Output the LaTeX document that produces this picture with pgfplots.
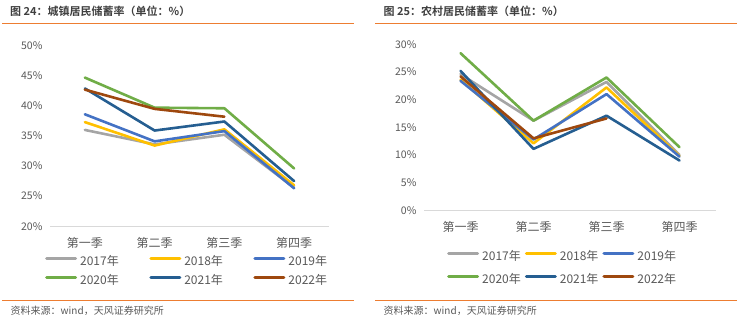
\documentclass[border=0pt]{standalone}
\usepackage{fontspec}
\setmainfont{Noto Sans CJK SC}[BoldFont={Noto Sans CJK SC Bold}]
\usepackage{pgfplots}
\pgfplotsset{compat=1.18}
\definecolor{c17}{HTML}{A5A5A5}
\definecolor{c18}{HTML}{FFC000}
\definecolor{c19}{HTML}{4472C4}
\definecolor{c20}{HTML}{70AD47}
\definecolor{c21}{HTML}{255E91}
\definecolor{c22}{HTML}{9E480E}
\definecolor{orng}{HTML}{ED7D31}
\definecolor{txt}{HTML}{595959}
\definecolor{ttl}{HTML}{3F3F3F}
\pgfplotsset{
  common/.style={
    scale only axis,
    axis x line*=bottom, axis y line*=left,
    y axis line style={draw=none},
    x axis line style={draw=black!15, line width=0.8bp},
    tick style={draw=none},
    xmin=-0.5, xmax=3.5,
    xtick={0,1,2,3},
    xticklabels={第一季,第二季,第三季,第四季},
    xticklabel style={font=\fontsize{12bp}{14bp}\selectfont, text=txt, yshift=-7.5bp},
    yticklabel style={font=\fontsize{10.5bp}{12bp}\selectfont, text=txt, xshift=-4bp},
    every axis plot/.append style={line width=2.6bp, line cap=round, line join=round, mark=none},
    legend columns=3,
    legend cell align=left,
    legend image code/.code={\draw[##1, line width=3bp] (0bp,3.8bp) -- (29bp,3.8bp);},
  }
}
\begin{document}
\begin{tikzpicture}
\path[use as bounding box] (0,0) rectangle (744bp,-324bp);
% titles and rules
\node[anchor=west, font=\bfseries\fontsize{11bp}{13bp}\selectfont, text=ttl, inner sep=0] at (10bp,-11.7bp) {图 24：城镇居民储蓄率（单位：\%）};
\node[anchor=west, font=\bfseries\fontsize{11bp}{13bp}\selectfont, text=ttl, inner sep=0] at (383.5bp,-11.7bp) {图 25：农村居民储蓄率（单位：\%）};
\draw[orng, line width=0.8bp] (2bp,-23.3bp) -- (354bp,-23.3bp);
\draw[orng, line width=0.8bp] (375bp,-23.3bp) -- (737bp,-23.3bp);
\draw[orng, line width=0.8bp] (2bp,-300.3bp) -- (354bp,-300.3bp);
\draw[orng, line width=0.8bp] (375bp,-300.3bp) -- (737bp,-300.3bp);
\node[anchor=west, font=\fontsize{10bp}{12bp}\selectfont, text=txt, inner sep=0] at (10.5bp,-311bp) {资料来源：wind，天风证券研究所};
\node[anchor=west, font=\fontsize{10bp}{12bp}\selectfont, text=txt, inner sep=0] at (383.5bp,-311bp) {资料来源：wind，天风证券研究所};

% left chart
\begin{axis}[common,
  at={(50bp,-45.7bp)}, anchor=north west,
  width=279bp, height=180.5bp,
  ymin=20, ymax=50,
  ytick={20,25,30,35,40,45,50},
  yticklabels={20\%,25\%,30\%,35\%,40\%,45\%,50\%},
  legend style={at={(-0.018,-0.167)}, anchor=north west, draw=none, inner sep=0pt,
    font=\fontsize{12bp}{14bp}\selectfont, text=txt,
    nodes={inner sep=0pt, text height=9bp, text depth=3bp},
    row sep=6.5bp,
    /tikz/every odd column/.append style={column sep=3bp},
    /tikz/every even column/.append style={column sep=30.5bp}},
]
\addplot[c17] coordinates {(0,36.0) (1,33.6) (2,35.2) (3,26.4)};
\addlegendentry{2017年}
\addplot[c18] coordinates {(0,37.3) (1,33.4) (2,36.1) (3,26.8)};
\addlegendentry{2018年}
\addplot[c19] coordinates {(0,38.6) (1,34.1) (2,35.8) (3,26.3)};
\addlegendentry{2019年}
\addplot[c20] coordinates {(0,44.7) (1,39.7) (2,39.6) (3,29.6)};
\addlegendentry{2020年}
\addplot[c21] coordinates {(0,42.9) (1,35.9) (2,37.4) (3,27.5)};
\addlegendentry{2021年}
\addplot[c22] coordinates {(0,42.7) (1,39.5) (2,38.2)};
\addlegendentry{2022年}
\end{axis}

% right chart
\begin{axis}[common,
  at={(424bp,-44.3bp)}, anchor=north west,
  width=292bp, height=166bp,
  ymin=0, ymax=30,
  ytick={0,5,10,15,20,25,30},
  yticklabels={0\%,5\%,10\%,15\%,20\%,25\%,30\%},
  legend style={at={(0.0788,-0.247)}, anchor=north west, draw=none, inner sep=0pt,
    font=\fontsize{12bp}{14bp}\selectfont, text=txt,
    nodes={inner sep=0pt, text height=9bp, text depth=3bp},
    row sep=11bp,
    /tikz/every odd column/.append style={column sep=3bp},
    /tikz/every even column/.append style={column sep=4bp}},
]
\addplot[c17] coordinates {(0,24.6) (1,16.2) (2,23.2) (3,10.0)};
\addlegendentry{2017年}
\addplot[c18] coordinates {(0,23.6) (1,12.1) (2,22.2) (3,9.8)};
\addlegendentry{2018年}
\addplot[c19] coordinates {(0,23.4) (1,12.8) (2,21.0) (3,9.7)};
\addlegendentry{2019年}
\addplot[c20] coordinates {(0,28.4) (1,16.2) (2,24.0) (3,11.4)};
\addlegendentry{2020年}
\addplot[c21] coordinates {(0,25.2) (1,11.1) (2,17.1) (3,9.0)};
\addlegendentry{2021年}
\addplot[c22] coordinates {(0,24.2) (1,13.0) (2,16.6)};
\addlegendentry{2022年}
\end{axis}
\end{tikzpicture}
\end{document}
